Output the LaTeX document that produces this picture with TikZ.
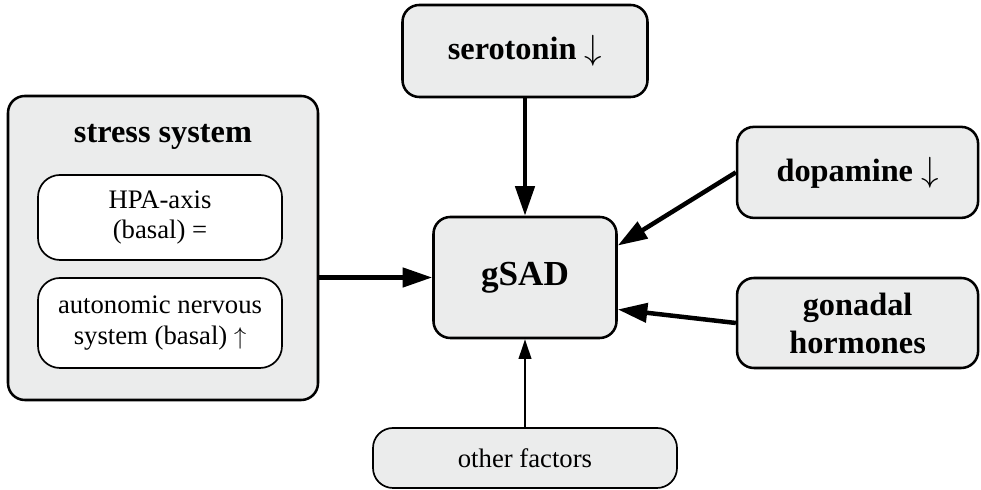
\documentclass[tikz,border=0pt]{standalone}
\usepackage{fontspec}
\setmainfont{Liberation Serif}
\usepackage{xcolor}
\usetikzlibrary{arrows.meta}

\definecolor{boxgray}{RGB}{235,236,236}

\begin{document}
\begin{tikzpicture}[
    box/.style={draw, line width=1.8pt, fill=boxgray, rounded corners=0.42cm, inner sep=0pt, align=center},
    subbox/.style={draw, line width=1.2pt, fill=white, rounded corners=0.55cm, inner sep=0pt, align=center,
      minimum width=6.1cm, font=\fontsize{19}{22}\selectfont},
    bigtext/.style={font=\fontsize{23}{27}\selectfont\bfseries},
    thick arrow/.style={line width=3.2pt, -{Triangle[length=21pt, width=13.5pt]}},
    thin arrow/.style={line width=1.3pt, -{Triangle[length=14pt, width=9pt]}}
  ]
    \useasboundingbox (0,0) rectangle (24.525,12.25);

    \node[box, minimum width=7.75cm, minimum height=7.6cm] (stress) at (4.075,6.05) {};
    \node[bigtext] (stresslabel) at (4.075,8.825) {stress system};
    \node[subbox, minimum height=2.125cm] (hpa) at (4.0,6.8125) {HPA-axis\\(basal) =};
    \node[subbox, minimum height=2.25cm] (ans) at (4.0,4.175) {autonomic nervous\\system (basal) $\uparrow$};

    \node[box, minimum width=4.575cm, minimum height=3.025cm, font=\fontsize{25}{29}\selectfont\bfseries] (gsad) at (13.125,5.3125) {gSAD};
    \node[box, bigtext, minimum width=6.125cm, minimum height=2.3cm] (sero) at (13.125,10.975) {serotonin $\downarrow$};
    \node[box, bigtext, minimum width=6.025cm, minimum height=2.275cm] (dopa) at (21.44,7.94) {dopamine $\downarrow$};
    \node[box, bigtext, minimum width=6.025cm, minimum height=2.25cm] (gona) at (21.44,4.175) {gonadal\\hormones};
    \node[box, line width=1.2pt, rounded corners=0.5cm, minimum width=7.6cm, minimum height=1.5cm,
      font=\fontsize{19}{22}\selectfont] (other) at (13.125,0.8) {other factors};

    \draw[thick arrow] (sero) -- (gsad);
    \draw[thick arrow] (stress.east |- gsad.west) -- (gsad.west);
    \draw[thick arrow] (dopa.west) -- (gsad.19);
    \draw[thick arrow] (gona.west) -- (gsad.-19);
    \draw[thin arrow] (other) -- (gsad);
  \end{tikzpicture}
\end{document}
